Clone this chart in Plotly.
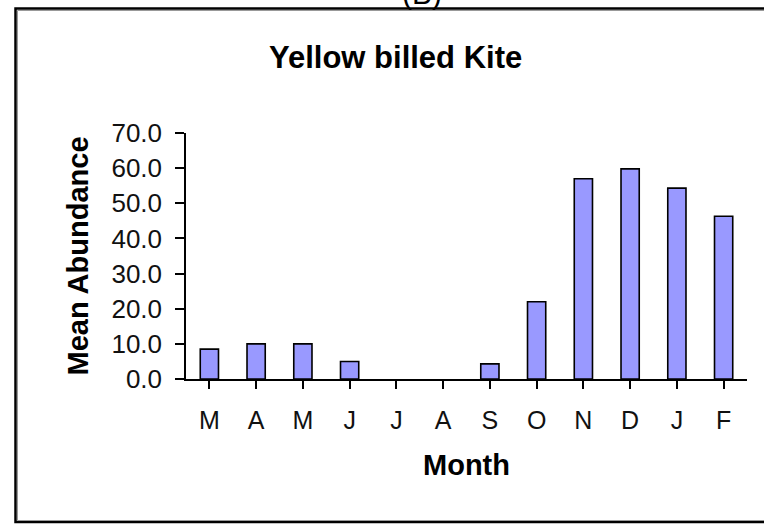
import plotly.graph_objects as go

months = ["M", "A", "M", "J", "J", "A", "S", "O", "N", "D", "J", "F"]
abundance = [8.5, 10.0, 10.0, 5.0, 0.0, 0.0, 4.3, 22.0, 57.0, 59.8, 54.3, 46.3]
y_ticks = [0, 10, 20, 30, 40, 50, 60, 70]

title_text = "Yellow billed Kite"
x_title = "Month"
y_title = "Mean Abundance"
panel_label = "(B)"

W, H = 764, 524
L, R, T, B = 186, 17, 133, 145
pw, ph = W - L - R, H - T - B

def px_x(p):
    return (p - L) / pw

def px_y(p):
    return (H - B - p) / ph

FONT = "Arial, 'Liberation Sans', sans-serif"

line_widths = [1.6 if v > 0 else 0 for v in abundance]

fig = go.Figure()
fig.add_trace(go.Bar(
    x=list(range(len(months))),
    y=abundance,
    marker=dict(color="#9999FF", line=dict(color="#000000", width=line_widths)),
    width=0.39,
))

fig.update_layout(
    width=W, height=H,
    margin=dict(l=L, r=R, t=T, b=B, pad=0),
    paper_bgcolor="white", plot_bgcolor="white",
    showlegend=False,
    font=dict(family=FONT, color="#000000"),
    xaxis=dict(
        tickmode="array",
        tickvals=list(range(len(months))),
        ticktext=months,
        range=[-0.5, len(months) - 0.5],
        tickson="boundaries",
        ticks="outside", ticklen=8, tickwidth=1.5, tickcolor="#000000",
        showline=True, linecolor="#000000", linewidth=1.5,
        showgrid=False, zeroline=False,
        tickfont=dict(size=25, family=FONT, color="#111111"),
        ticklabelstandoff=10,
        title=dict(text="<b>" + x_title + "</b>", font=dict(size=29, family=FONT), standoff=22),
    ),
    yaxis=dict(
        range=[0, 70],
        tickmode="array",
        tickvals=y_ticks,
        tickformat=".1f",
        ticks="outside", ticklen=9, tickwidth=1.5, tickcolor="#000000",
        showline=True, linecolor="#000000", linewidth=1.5,
        showgrid=False, zeroline=False,
        tickfont=dict(size=26, family=FONT, color="#111111"),
        ticklabelstandoff=8,
        title=dict(text="<b>" + y_title + "</b>", font=dict(size=29, family=FONT), standoff=14),
    ),
    annotations=[
        dict(text="<b>" + title_text + "</b>", xref="paper", yref="paper",
             x=px_x(395), y=px_y(57), xanchor="center", yanchor="middle",
             showarrow=False, font=dict(size=31, family=FONT, color="#000000")),
        dict(text=panel_label, xref="paper", yref="paper",
             x=px_x(422), y=px_y(12), xanchor="center", yanchor="bottom",
             showarrow=False, font=dict(size=30, family=FONT, color="#000000")),
    ],
    shapes=[
        dict(type="rect", xref="paper", yref="paper",
             x0=px_x(15.5), x1=px_x(780), y0=px_y(522), y1=px_y(8.5),
             line=dict(color="#000000", width=2.5), layer="below"),
        dict(type="rect", xref="paper", yref="paper",
             x0=px_x(17.5), x1=px_x(780), y0=px_y(520.5), y1=px_y(10.5),
             line=dict(color="#999999", width=1), layer="below"),
    ],
)

fig.write_html("out.html")
